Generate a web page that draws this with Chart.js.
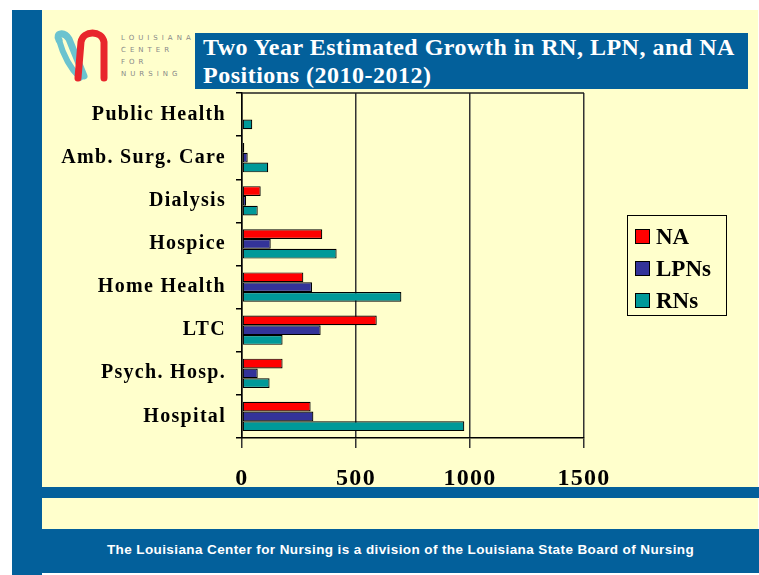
<!DOCTYPE html>
<html>
<head>
<meta charset="utf-8">
<script src="https://cdn.jsdelivr.net/npm/chart.js@4"></script>
<style>
    body { margin: 0; background: #fff; }
    #stage { position: relative; width: 759px; height: 575px; overflow: hidden; }
    .abs { position: absolute; }
    #paper { left: 42px; top: 10px; width: 716px; height: 563px; background: #FFFFCC; }
    #strip { left: 12px; top: 10px; width: 30px; height: 565px; background: #03609b; }
    #band { left: 42px; top: 487px; width: 717px; height: 11px; background: #03609b; }
    #footer { left: 42px; top: 529px; width: 717px; height: 44px; background: #03609b;
        color: #fff; font: bold 13.5px "Liberation Sans", Arial, sans-serif; letter-spacing: 0.4px;
        text-align: center; line-height: 42px; }
    #title { left: 195px; top: 33px; width: 553px; height: 56px; background: #03609b; color: #fff;
        font: bold 24px "Liberation Serif", "Times New Roman", serif; letter-spacing: 0.5px;
        line-height: 28px; padding-left: 8px; box-sizing: border-box; white-space: nowrap; }
    #logoText { left: 121px; top: 32px; color: #888; font: 7px "DejaVu Sans", sans-serif; letter-spacing: 4px; line-height: 12px; }
    #legend { left: 627px; top: 215px; width: 100px; height: 101px; border: 1px solid #000; box-sizing: border-box; }
    .item { position: absolute; left: 7px; height: 26px; font: bold 23px "Liberation Serif", "Times New Roman", serif; line-height: 26px; }
    .item span { display: inline-block; width: 13px; height: 13px; border: 1px solid #000; margin-right: 6px; vertical-align: 0px; }
    canvas { position: absolute; left: 0; top: 0; }
</style>
</head>
<body>
<div id="stage">
    <div id="paper" class="abs"></div>
    <div id="strip" class="abs"></div>
    <div id="band" class="abs"></div>
    <div id="footer" class="abs">The Louisiana Center for Nursing is a division of the Louisiana State Board of Nursing</div>
    <div id="title" class="abs">Two Year Estimated Growth in RN, LPN, and NA<br>Positions (2010-2012)</div>
    <svg class="abs" style="left:50px;top:28px" width="70" height="58">
        <path d="M9 12 C 5 5, 14 3, 19 11 L 34 48" stroke="#6bc3cf" stroke-width="7" fill="none" stroke-linecap="round"/>
        <path d="M9 12 C 14 30, 22 42, 30 50" stroke="#6bc3cf" stroke-width="6" fill="none" stroke-linecap="round"/>
        <path d="M28 50 L 31 14 C 33 2, 52 2, 54 14 L 54 50" stroke="#e8262c" stroke-width="7" fill="none" stroke-linecap="round"/>
    </svg>
    <div id="logoText" class="abs">LOUISIANA<br>CENTER<br>FOR<br>NURSING</div>
    <canvas id="growthChart" width="759" height="575"></canvas>
    <div id="legend" class="abs"></div>
</div>
<script>
const categories = ['Public Health', 'Amb. Surg. Care', 'Dialysis', 'Hospice', 'Home Health', 'LTC', 'Psych. Hosp.', 'Hospital'];
const naValues = [null, 10, 82, 352, 269, 591, 178, 301];
const lpnValues = [null, 25, 18, 126, 307, 345, 69, 313];
const rnValues = [45, 115, 69, 415, 699, 178, 121, 975];
const xTicks = [0, 500, 1000, 1500];

const serif = '"Liberation Serif", "Times New Roman", serif';

// spaced-out lettering like the slide, plus the top edge of the plot box
const slideLook = {
    id: 'slideLook',
    beforeUpdate(chart) { chart.ctx.letterSpacing = '1.3px'; },
    beforeDraw(chart) { chart.ctx.letterSpacing = '1.3px'; },
    afterDraw(chart) {
        const a = chart.chartArea;
        const ctx = chart.ctx;
        ctx.save();
        ctx.strokeStyle = '#222';
        ctx.lineWidth = 1.5;
        ctx.beginPath();
        ctx.moveTo(a.left, a.top);
        ctx.lineTo(a.right, a.top);
        ctx.stroke();
        ctx.restore();
    }
};

const chart = new Chart(document.getElementById('growthChart'), {
    type: 'bar',
    data: {
        labels: categories,
        datasets: [
            { label: 'NA', data: naValues, backgroundColor: '#FF0000' },
            { label: 'LPNs', data: lpnValues, backgroundColor: '#333399' },
            { label: 'RNs', data: rnValues, backgroundColor: '#009999' }
        ]
    },
    options: {
        indexAxis: 'y',
        responsive: false,
        animation: false,
        categoryPercentage: 0.68,
        barPercentage: 1,
        datasets: { bar: { borderColor: '#000', borderWidth: 1.2, borderSkipped: false } },
        layout: { padding: { top: 93, right: 175, bottom: 77, left: 0 } },
        plugins: { legend: { display: false }, tooltip: { enabled: false } },
        scales: {
            x: {
                min: 0,
                max: 1500,
                afterBuildTicks: s => { s.ticks = xTicks.map(v => ({ value: v })); },
                afterFit: s => { s.height = 60; },
                grid: { color: '#333', lineWidth: 1.5, tickLength: 10, drawTicks: true },
                border: { display: true, color: '#000', width: 1.5 },
                ticks: {
                    color: '#000', padding: 16, maxRotation: 0,
                    callback: v => String(v),
                    font: { family: serif, size: 24, weight: 'bold' }
                }
            },
            y: {
                afterFit: s => { s.width = 242; },
                grid: { drawOnChartArea: false, offset: true, color: '#000', lineWidth: 1.5, tickLength: 6 },
                border: { display: true, color: '#000', width: 1.5 },
                ticks: { color: '#000', padding: 10, font: { family: serif, size: 20, weight: 'bold' } }
            }
        }
    },
    plugins: [slideLook]
});

// legend built from the chart's datasets
const legend = document.getElementById('legend');
chart.data.datasets.forEach((ds, i) => {
    const item = document.createElement('div');
    item.className = 'item';
    item.style.top = (8 + i * 32) + 'px';
    item.innerHTML = '<span style="background:' + ds.backgroundColor + '"></span>' + ds.label;
    legend.appendChild(item);
});
</script>
</body>
</html>
